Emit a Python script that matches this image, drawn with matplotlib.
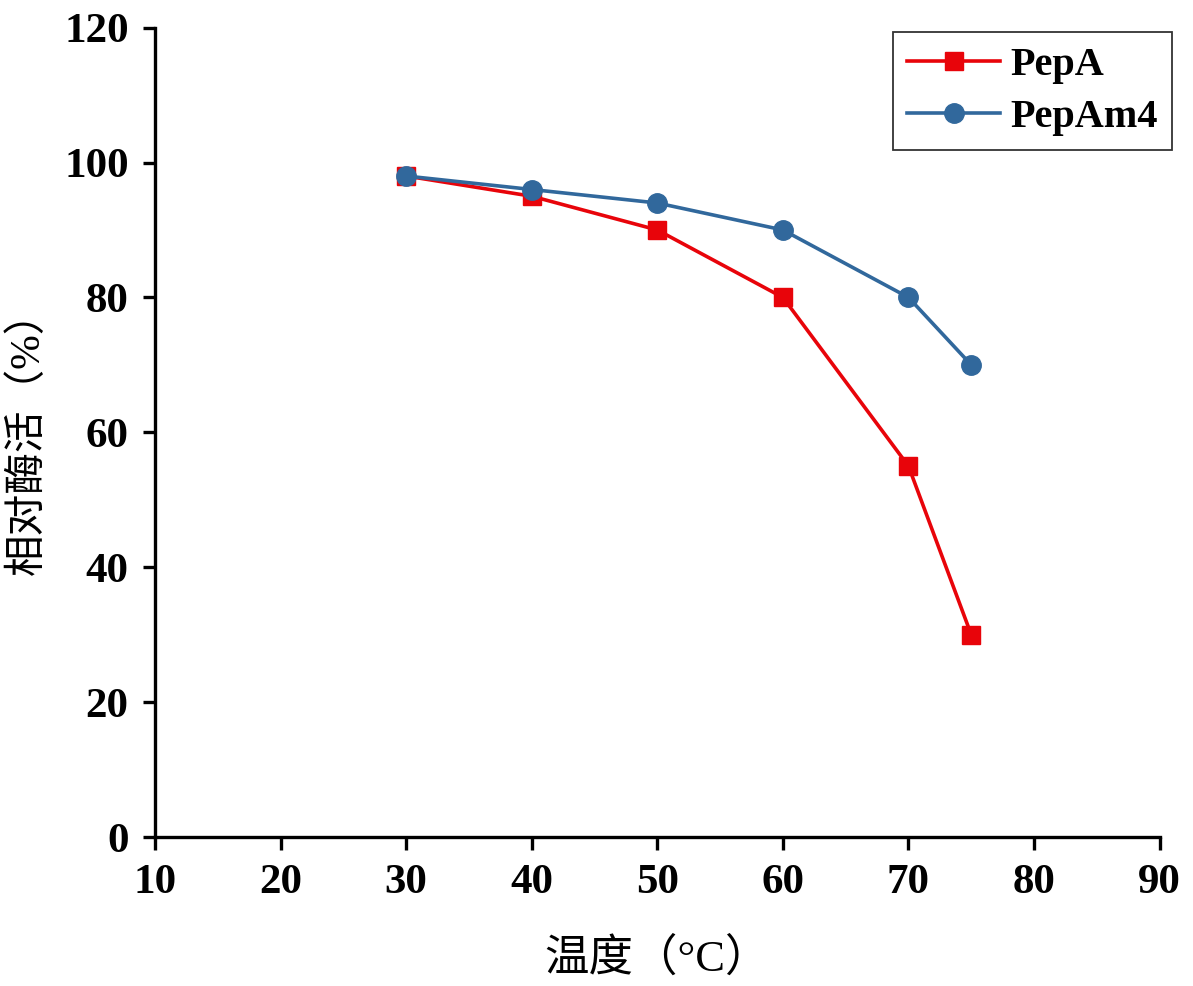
import matplotlib
matplotlib.use('Agg')
from matplotlib import pyplot as plt

temps = [30, 40, 50, 60, 70, 75]
pepa = [98, 95, 90, 80, 55, 30]
pepam4 = [98, 96, 94, 90, 80, 70]

plt.rcParams['font.family'] = ['Liberation Serif', 'Noto Sans CJK SC']

fig = plt.figure(figsize=(11.93, 9.86), dpi=100)
ax = fig.add_axes([0.130, 0.151, 0.842, 0.821])

ax.plot(temps, pepa, c='#e8040a', lw=2.6, marker='s', ms=13, label='PepA')
ax.plot(temps, pepam4, c='#31689c', lw=2.6, marker='o', ms=14, label='PepAm4')

ax.set_xlim(10, 90)
ax.set_ylim(0, 120)
ax.set_xticks(range(10, 91, 10))
ax.set_yticks(range(0, 121, 20))

for s in ['top', 'right']:
    ax.spines[s].set_visible(False)
for s in ['left', 'bottom']:
    ax.spines[s].set_linewidth(2.4)

ax.tick_params(axis='both', which='major', direction='out', length=9, width=2.4,
               labelsize=31, pad=10)
for lbl in ax.get_xticklabels() + ax.get_yticklabels():
    lbl.set_fontweight('bold')

ax.set_xlabel('温度（°C）', fontsize=32, labelpad=26)
ax.set_ylabel('相对酶活（%）', fontsize=30, labelpad=12)

leg = ax.legend(loc='upper right', bbox_to_anchor=(1.012, 0.994), fancybox=False,
                edgecolor='black', prop={'weight': 'bold', 'size': 29},
                handlelength=2.3, borderpad=0.35, labelspacing=0.38, handletextpad=0.25,
                borderaxespad=0.0)
leg.get_frame().set_linewidth(1.3)

fig.savefig('out.png', dpi=100)
